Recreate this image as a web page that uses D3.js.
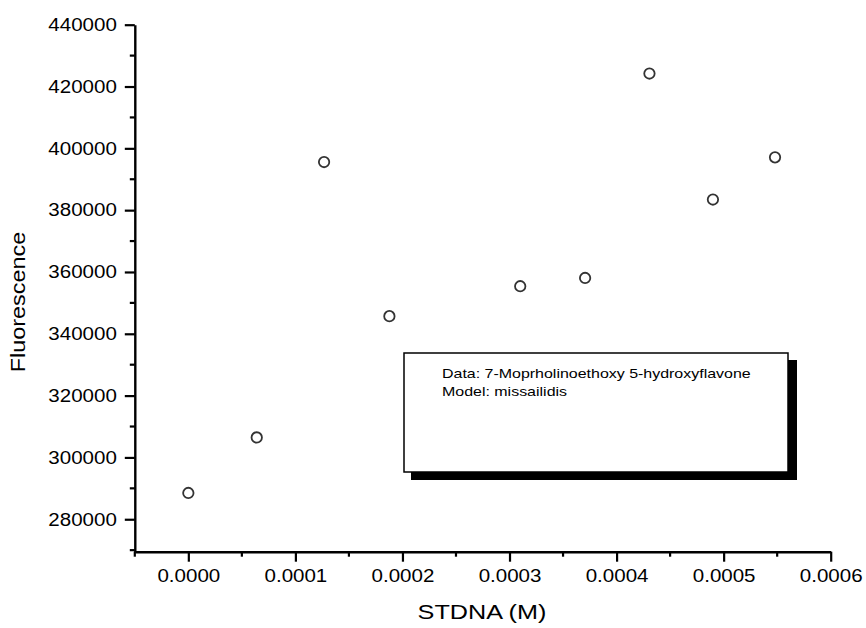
<!DOCTYPE html>
<html>
<head>
<meta charset="utf-8">
<script src="https://cdn.jsdelivr.net/npm/d3@7"></script>
<style>
  html, body { margin: 0; padding: 0; background: #fff; }
  svg { display: block; }
  text { font-family: "Liberation Sans", Arial, sans-serif; fill: #000; }
</style>
</head>
<body>
<svg id="chart" width="866" height="628"></svg>
<script>
// ---- data ----
const stdna = [0, 0.0000639, 0.0001268, 0.0001878, 0.000310, 0.0003706, 0.0004307, 0.000490, 0.000548];
const fluorescence = [288500, 306470, 395570, 345700, 355400, 358060, 424200, 383430, 397090];
const xTicks = [0, 0.0001, 0.0002, 0.0003, 0.0004, 0.0005, 0.0006];
const yTicks = [280000, 300000, 320000, 340000, 360000, 380000, 400000, 420000, 440000];
const xLabel = "STDNA (M)";
const yLabel = "Fluorescence";
const legendLines = ["Data: 7-Moprholinoethoxy 5-hydroxyflavone", "Model: missailidis"];

const svg = d3.select("#chart");

const x = d3.scaleLinear().domain([-0.00005, 0.0006]).range([134.8, 830.7]);
const y = d3.scaleLinear().domain([269500, 440000]).range([551.7, 24.7]);

function stretch(sel, f) {
  sel.each(function () {
    const len = this.getComputedTextLength();
    d3.select(this).attr("textLength", len * f).attr("lengthAdjust", "spacingAndGlyphs");
  });
}

// minor ticks
const xMinor = d3.range(-0.00005, 0.00060001, 0.00005).filter(v => !xTicks.some(t => Math.abs(t - v) < 1e-9));
const yMinor = d3.range(270000, 440001, 10000).filter(v => !yTicks.includes(v));

const axisY = 551.7, axisX = 134.8;

// x axis
const gx = svg.append("g").attr("transform", `translate(0,${axisY})`)
  .call(d3.axisBottom(x).tickValues(xTicks).tickFormat(d3.format(".4f")).tickSize(10).tickPadding(8).tickSizeOuter(0));
gx.select(".domain").attr("stroke", "#000").attr("stroke-width", 2.4);
gx.selectAll(".tick line").attr("stroke", "#000").attr("stroke-width", 2.2);
gx.selectAll(".tick text").attr("font-size", 18).attr("font-family", "Liberation Sans, Arial, sans-serif").attr("fill", "#000").call(stretch, 1.14);
gx.selectAll(".minor").data(xMinor).enter().append("line")
  .attr("x1", d => x(d)).attr("x2", d => x(d)).attr("y1", 0).attr("y2", 5)
  .attr("stroke", "#000").attr("stroke-width", 2.2);

// y axis
const gy = svg.append("g").attr("transform", `translate(${axisX},0)`)
  .call(d3.axisLeft(y).tickValues(yTicks).tickFormat(d3.format("d")).tickSize(10).tickPadding(8).tickSizeOuter(0));
gy.select(".domain").attr("stroke", "#000").attr("stroke-width", 2.4);
gy.selectAll(".tick line").attr("stroke", "#000").attr("stroke-width", 2.2);
gy.selectAll(".tick text").attr("font-size", 18).attr("font-family", "Liberation Sans, Arial, sans-serif").attr("fill", "#000").call(stretch, 1.14);
gy.selectAll(".minor").data(yMinor).enter().append("line")
  .attr("x1", -5).attr("x2", 0).attr("y1", d => y(d)).attr("y2", d => y(d))
  .attr("stroke", "#000").attr("stroke-width", 2.2);

// axis titles
svg.append("text").attr("x", 482).attr("y", 619).attr("text-anchor", "middle")
  .attr("font-size", 21).text(xLabel).call(stretch, 1.2);
svg.append("text").attr("transform", "translate(25,302) rotate(-90)").attr("text-anchor", "middle")
  .attr("font-size", 19.5).text(yLabel).call(stretch, 1.2);

// legend box with shadow
const lg = svg.append("g");
lg.append("rect").attr("x", 411).attr("y", 360).attr("width", 386).attr("height", 120).attr("fill", "#000");
lg.append("rect").attr("x", 404).attr("y", 353).attr("width", 384).attr("height", 119)
  .attr("fill", "#fff").attr("stroke", "#000").attr("stroke-width", 1.5);
lg.selectAll("text.leg").data(legendLines).enter().append("text")
  .attr("class", "leg").attr("x", 442).attr("y", (d, i) => 377.5 + i * 18)
  .attr("font-size", 13.3).text(d => d).call(stretch, 1.2);

// points
svg.append("g").selectAll("circle").data(stdna).enter().append("circle")
  .attr("cx", d => x(d)).attr("cy", (d, i) => y(fluorescence[i]))
  .attr("r", 5.2).attr("fill", "none").attr("stroke", "#333").attr("stroke-width", 1.8);
</script>
</body>
</html>
